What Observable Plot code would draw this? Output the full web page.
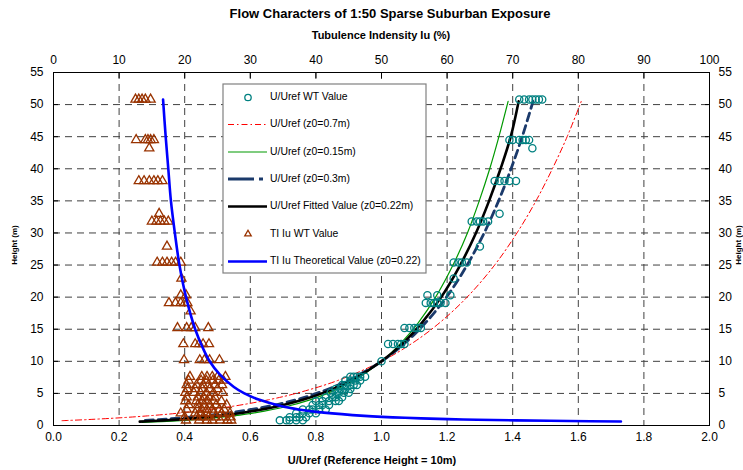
<!DOCTYPE html>
<html><head><meta charset="utf-8">
<script src="https://cdn.jsdelivr.net/npm/d3@7"></script>
<script src="https://cdn.jsdelivr.net/npm/@observablehq/plot@0.6"></script>
<style>
body{margin:0;background:#fff;}
svg{font-family:"Liberation Sans",Arial,sans-serif;}
</style>
</head><body><div id="chart"></div>
<script>
// ---- tick labels ----
const uTicks = [0.0, 0.2, 0.4, 0.6, 0.8, 1.0, 1.2, 1.4, 1.6, 1.8, 2.0];
const tiTicks = [0, 10, 20, 30, 40, 50, 60, 70, 80, 90, 100];
const hTicks = [0, 5, 10, 15, 20, 25, 30, 35, 40, 45, 50, 55];

// ---- wind tunnel U/Uref measurements (height rows) ----
const wtHeights = [0.8, 1.3, 1.9, 2.5, 3.2, 3.8, 4.4, 5.1, 5.7, 6.3, 7.0, 7.6, 10.0, 12.7, 15.2, 19.1, 20.3, 22.9, 25.4, 27.9, 31.8, 33.0, 38.1, 43.2, 44.5, 50.8];
const wtURows = [
  [0.69, 0.71, 0.72, 0.74, 0.76],
  [0.72, 0.74, 0.75, 0.77],
  [0.74, 0.76, 0.78, 0.80],
  [0.76, 0.78, 0.79, 0.81, 0.83],
  [0.79, 0.81, 0.82, 0.84],
  [0.80, 0.82, 0.84, 0.86, 0.87],
  [0.83, 0.85, 0.86, 0.88],
  [0.845, 0.86, 0.87, 0.885, 0.90],
  [0.86, 0.875, 0.89, 0.905],
  [0.88, 0.89, 0.905, 0.915, 0.925],
  [0.89, 0.905, 0.92, 0.935],
  [0.905, 0.915, 0.925, 0.935, 0.95],
  [1.0],
  [1.02, 1.035, 1.05, 1.06, 1.07],
  [1.07, 1.085, 1.10, 1.11, 1.12],
  [1.135, 1.15, 1.16, 1.17, 1.18, 1.195],
  [1.14, 1.17, 1.21],
  [1.22],
  [1.22, 1.235, 1.245, 1.26],
  [1.30],
  [1.275, 1.29, 1.30, 1.31, 1.325],
  [1.36],
  [1.345, 1.36, 1.375, 1.39, 1.41],
  [1.46],
  [1.39, 1.40, 1.42, 1.43, 1.44, 1.45],
  [1.42, 1.435, 1.45, 1.46, 1.47, 1.48, 1.49]
];

// ---- wind tunnel turbulence intensity (%) ----
const tiHeights = [0.8, 1.3, 1.9, 2.5, 3.2, 3.8, 4.4, 5.1, 5.7, 6.3, 7.0, 7.6, 10.2, 12.7, 15.2, 17.8, 19.1, 20.3, 22.9, 25.4, 27.9, 31.8, 33.0, 38.1, 43.2, 44.5, 50.8];
const tiRows = [
  [20.2, 22.2, 23.4, 24.2, 25.4, 26.5, 27.1],
  [20.0, 21.8, 22.8, 23.6, 24.7, 25.8, 27.0],
  [19.4, 21.6, 22.5, 23.4, 24.4, 25.6, 26.9],
  [20.3, 21.9, 22.6, 23.4, 24.2, 25.3, 26.0],
  [20.6, 22.0, 22.9, 23.8, 24.8, 26.4],
  [20.1, 21.8, 22.7, 23.5, 24.4, 25.6],
  [20.3, 22.0, 22.9, 23.7, 24.6],
  [20.1, 21.4, 22.4, 23.3, 24.4, 25.8],
  [20.4, 21.6, 22.7, 23.8, 25.0],
  [20.3, 21.8, 22.8, 23.6, 24.6, 25.7],
  [20.6, 22.5, 23.3, 24.3, 25.2, 25.9],
  [20.8, 22.6, 23.4, 24.2, 25.0, 26.2],
  [19.9, 22.3, 23.0, 23.8, 25.3],
  [19.8, 21.6, 22.2, 22.8, 23.7],
  [18.9, 20.3, 21.0, 21.6, 23.6],
  [20.9],
  [17.6, 18.6, 19.4, 20.0, 20.4],
  [19.4, 20.2],
  [19.5],
  [15.8, 16.6, 17.3, 18.0, 18.6, 19.4],
  [17.3],
  [15.0, 15.7, 16.3, 16.9, 17.5],
  [16.1],
  [13.0, 13.8, 14.6, 15.3, 15.9, 16.6],
  [14.6],
  [12.6, 14.0, 14.4, 14.8, 15.3],
  [12.5, 13.0, 13.5, 14.0, 14.8]
];

// ---- profile curves ----
const z07H = [0.75, 0.8, 0.9, 1.0, 1.2, 1.5, 2, 3, 4, 5, 7, 10, 13, 16, 20, 25, 30, 35, 40, 45, 50.5];
const z07U = [0.026, 0.050, 0.095, 0.134, 0.203, 0.287, 0.395, 0.547, 0.655, 0.739, 0.866, 1.000, 1.099, 1.177, 1.261, 1.345, 1.413, 1.471, 1.521, 1.566, 1.609];
const z015H = [0.47, 0.6, 0.8, 1.0, 1.5, 2, 3, 4, 5, 7, 10, 13, 16, 20, 25, 30, 35, 40, 45, 50.5];
const z015U = [0.270, 0.330, 0.399, 0.452, 0.548, 0.617, 0.713, 0.782, 0.835, 0.915, 1.000, 1.062, 1.112, 1.165, 1.218, 1.262, 1.298, 1.330, 1.358, 1.386];
const z03H = [0.8, 1.0, 1.5, 2, 3, 4, 5, 7, 10, 13, 16, 20, 25, 30, 35, 40, 45, 50.5];
const z03U = [0.280, 0.343, 0.459, 0.541, 0.657, 0.739, 0.802, 0.898, 1.000, 1.075, 1.134, 1.198, 1.261, 1.313, 1.357, 1.395, 1.429, 1.462];
const fitH = [0.6, 0.7, 0.8, 1.0, 1.5, 2, 3, 4, 5, 7, 10, 13, 16, 20, 25, 30, 35, 40, 45, 50.5];
const fitU = [0.263, 0.303, 0.338, 0.397, 0.503, 0.578, 0.685, 0.760, 0.818, 0.907, 1.000, 1.069, 1.123, 1.182, 1.240, 1.288, 1.328, 1.363, 1.394, 1.418];
const tiCurveH = [0.63, 0.7, 0.8, 0.9, 1.0, 1.2, 1.5, 2, 2.5, 3, 4, 5, 6, 8, 10, 12, 15, 20, 25, 30, 35, 40, 45, 50.8];
const tiCurveV = [86.5, 78.6, 70.5, 64.6, 60.1, 53.6, 47.4, 41.2, 37.4, 34.8, 31.4, 29.1, 27.5, 25.3, 23.8, 22.8, 21.6, 20.2, 19.2, 18.5, 17.9, 17.5, 17.1, 16.7];

const legendLabels = ["U/Uref WT Value", "U/Uref (z0=0.7m)", "U/Uref (z0=0.15m)", "U/Uref (z0=0.3m)", "U/Uref Fitted Value (z0=0.22m)", "TI Iu WT Value", "TI Iu Theoretical Value (z0=0.22)"];

// ---- build tables ----
const wtPts = wtHeights.flatMap((h, i) => wtURows[i].map(u => ({h, u})));
const tiPts = tiHeights.flatMap((h, i) => tiRows[i].map(t => ({h, t})));
const pairs = (H, U) => H.map((h, i) => ({h, u: U[i]}));
const tiToU = t => t * 2 / 100; // top axis (0–100 %) shares the bottom axis (0–2.0)

const C = {
  red: "#ff0000", green: "#009900", navy: "#1b3a6b", black: "#000000",
  teal: "#008080", brown: "#993300", blue: "#0000ff", grid: "#404040"
};
const styles = [
  {type: "dot", stroke: C.teal},
  {type: "line", stroke: C.red, width: 1, dash: "6,3,1.5,3"},
  {type: "line", stroke: C.green, width: 1.2, dash: null},
  {type: "line", stroke: C.navy, width: 3, dash: "26,5,4,20"},
  {type: "line", stroke: C.black, width: 2.6, dash: null},
  {type: "tri", stroke: C.brown},
  {type: "line", stroke: C.blue, width: 2.6, dash: null}
];

const chart = Plot.plot({
  width: 743, height: 470,
  marginLeft: 53, marginRight: 34, marginTop: 72, marginBottom: 45,
  x: {domain: [0, 2]},
  y: {domain: [0, 55]},
  style: {fontFamily: "Liberation Sans, Arial, sans-serif", fontSize: "12px", background: "#fff", color: "#000"},
  marks: [
    Plot.ruleX(uTicks.slice(1, -1), {stroke: C.grid, strokeWidth: 1, strokeDasharray: "7,5"}),
    Plot.ruleY(hTicks.slice(1, -1), {stroke: C.grid, strokeWidth: 1, strokeDasharray: "7,5"}),
    Plot.axisX(uTicks, {anchor: "bottom", tickSize: 0, tickPadding: 7, tickFormat: d => d.toFixed(1), label: null, fontSize: 12}),
    Plot.axisX(uTicks, {anchor: "top", tickSize: 0, tickPadding: 9, tickFormat: (d, i) => String(tiTicks[i]), label: null, fontSize: 12}),
    Plot.axisY(hTicks, {anchor: "left", tickSize: 0, tickPadding: 10, label: null, fontSize: 12}),
    Plot.axisY(hTicks, {anchor: "right", tickSize: 0, tickPadding: 9, label: null, fontSize: 12}),
    Plot.axisX(uTicks, {anchor: "top", tickSize: -5, text: null, label: null}),
    Plot.axisY(hTicks, {anchor: "left", tickSize: -5, text: null, label: null}),
    Plot.axisY(hTicks, {anchor: "right", tickSize: -5, text: null, label: null}),
    Plot.line(pairs(z07H, z07U), {x: "u", y: "h", stroke: C.red, strokeWidth: 1, strokeDasharray: "6,3,1.5,3", curve: "catmull-rom"}),
    Plot.line(pairs(z015H, z015U), {x: "u", y: "h", stroke: C.green, strokeWidth: 1.2, curve: "catmull-rom"}),
    Plot.line(pairs(z03H, z03U), {x: "u", y: "h", stroke: C.navy, strokeWidth: 2.8, strokeDasharray: "8,5", curve: "catmull-rom"}),
    Plot.line(pairs(fitH, fitU), {x: "u", y: "h", stroke: C.black, strokeWidth: 2.6, curve: "catmull-rom"}),
    Plot.dot(wtPts, {x: "u", y: "h", r: 3.6, stroke: C.teal, strokeWidth: 1.3, fill: "none"}),
    Plot.dot(tiPts, {x: d => tiToU(d.t), y: "h", symbol: "triangle", r: 3.4, stroke: C.brown, strokeWidth: 1.3, fill: "none"}),
    Plot.line(tiCurveH.map((h, i) => ({h, t: tiCurveV[i]})), {x: d => tiToU(d.t), y: "h", stroke: C.blue, strokeWidth: 2.6, curve: "catmull-rom"}),
    Plot.frame({stroke: "#000", strokeWidth: 1})
  ]
});

const svg = d3.select(chart);
svg.style("overflow", "visible");
const txt = (x, y, s, size, weight, extra) => {
  const t = svg.append("text").attr("x", x).attr("y", y).attr("text-anchor", "middle")
    .attr("dominant-baseline", "middle").attr("font-size", size).attr("font-weight", weight)
    .attr("fill", "#000").attr("font-family", "Liberation Sans, Arial, sans-serif").text(s);
  if (extra) extra(t);
  return t;
};
txt(390, 15, "Flow Characters of 1:50 Sparse Suburban Exposure", 13, "bold");
txt(381, 36, "Tubulence Indensity Iu (%)", 11, "bold");
txt(372, 461, "U/Uref (Reference Height = 10m)", 11, "bold");
txt(0, 0, "Height (m)", 8, "bold", t => t.attr("transform", "translate(15,245) rotate(-90)"));
txt(0, 0, "Height (m)", 8, "bold", t => t.attr("transform", "translate(739,245) rotate(-90)"));

// ---- legend ----
const lg = svg.append("g");
lg.append("rect").attr("x", 223).attr("y", 84).attr("width", 203).attr("height", 189)
  .attr("fill", "#fff").attr("stroke", "#808080").attr("stroke-width", 1.2);
const rowY = [97.5, 124.5, 152, 179, 206.5, 234, 261.5];
legendLabels.forEach((lab, i) => {
  const st = styles[i], y = rowY[i];
  if (st.type === "line") {
    const l = lg.append("line").attr("x1", 228).attr("x2", 267).attr("y1", y).attr("y2", y)
      .attr("stroke", st.stroke).attr("stroke-width", st.width);
    if (st.dash) l.attr("stroke-dasharray", st.dash);
  } else if (st.type === "dot") {
    lg.append("circle").attr("cx", 248).attr("cy", y).attr("r", 3.2).attr("fill", "none")
      .attr("stroke", st.stroke).attr("stroke-width", 1.3);
  } else {
    lg.append("path").attr("d", d3.symbol(d3.symbolTriangle2, 30)()).attr("transform", `translate(248,${y})`)
      .attr("fill", "none").attr("stroke", st.stroke).attr("stroke-width", 1.3);
  }
  lg.append("text").attr("x", 270).attr("y", y).attr("text-anchor", "start").attr("dominant-baseline", "middle")
    .attr("font-size", 10.4).attr("fill", "#000").attr("font-family", "Liberation Sans, Arial, sans-serif").text(lab);
});

document.getElementById("chart").appendChild(chart);
</script>
</body></html>
